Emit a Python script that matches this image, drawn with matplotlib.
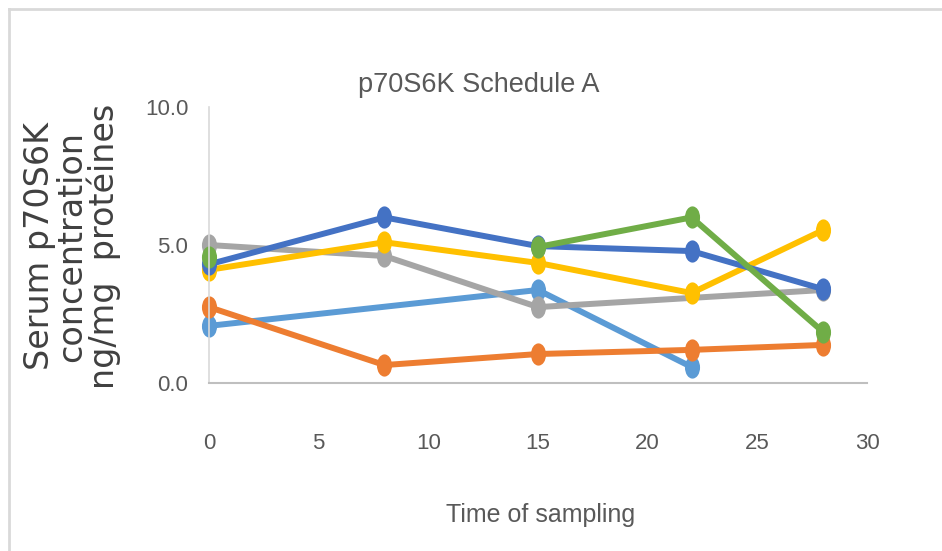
import numpy as np
import matplotlib
matplotlib.use("Agg")
import matplotlib.pyplot as plt
from matplotlib.path import Path
from matplotlib.transforms import Affine2D
from matplotlib.lines import Line2D

# data
x_lightblue = [0, 15, 22]
y_lightblue = [2.07, 3.37, 0.58]
x_orange = [0, 8, 15, 22, 28]
y_orange = [2.75, 0.65, 1.05, 1.2, 1.38]
x_gray = [0, 8, 15, 28]
y_gray = [5.0, 4.6, 2.75, 3.37]
x_yellow = [0, 8, 15, 22, 28]
y_yellow = [4.1, 5.1, 4.35, 3.26, 5.54]
x_darkblue = [0, 8, 15, 22, 28]
y_darkblue = [4.3, 6.0, 4.96, 4.78, 3.4]
x_green = [0, 8, 15, 22, 28]
y_green = [4.57, np.nan, 4.93, 6.0, 1.85]

x_ticks = [0, 5, 10, 15, 20, 25, 30]
y_ticks = [0, 5, 10]

series = [
    (x_lightblue, y_lightblue, "#5B9BD5"),
    (x_orange, y_orange, "#ED7D31"),
    (x_gray, y_gray, "#A5A5A5"),
    (x_yellow, y_yellow, "#FFC000"),
    (x_darkblue, y_darkblue, "#4472C4"),
    (x_green, y_green, "#70AD47"),
]

narrow = ["Liberation Sans", "DejaVu Sans"]
txt = "#595959"

# tall ellipse marker (the reference is squeezed horizontally)
ell = Path.unit_circle().transformed(Affine2D().scale(0.68, 1.0))

fig = plt.figure(figsize=(9.42, 5.51), dpi=100)
ax = fig.add_axes([0.2219, 0.3049, 0.6985, 0.5009])

for xs, ys, c in series:
    ax.plot(xs, ys, color=c, lw=4.3, marker=ell, markersize=16,
            markeredgewidth=0, clip_on=False, solid_capstyle="round")

ax.set_xlim(0, 30)
ax.set_ylim(0, 10)
ax.set_xticks(x_ticks)
ax.set_yticks(y_ticks)
ax.set_yticklabels([f"{v:.1f}" for v in y_ticks])
ax.tick_params(length=0, colors=txt, labelsize=16)
ax.tick_params(axis="x", pad=36)
ax.tick_params(axis="y", pad=15)
for lab in ax.get_xticklabels() + ax.get_yticklabels():
    lab.set_family(narrow)

for s in ["top", "right"]:
    ax.spines[s].set_visible(False)
ax.spines["left"].set_color("#d9d9d9")
ax.spines["bottom"].set_color("#bfbfbf")
ax.spines["left"].set_linewidth(1.2)
ax.spines["bottom"].set_linewidth(1.5)

fig.text(479 / 942, 1 - 85 / 551, "p70S6K Schedule A", ha="center", va="center",
         fontsize=19.5, color=txt, family=narrow)
fig.text(541 / 942, 1 - 515 / 551, "Time of sampling", ha="center", va="center",
         fontsize=18, color=txt, family=narrow)
fig.text(72 / 942, 1 - 246 / 551, "Serum p70S6K\nconcentration\nng/mg  protéines",
         rotation=90, ha="center", va="center", multialignment="center",
         fontsize=24, linespacing=0.97, color="#404040", family="DejaVu Sans")

# light frame at left and top
fig.add_artist(Line2D([8.5 / 942, 8.5 / 942], [0, 1 - 9 / 551], color="#d9d9d9", lw=2))
fig.add_artist(Line2D([8.5 / 942, 1], [1 - 9 / 551, 1 - 9 / 551], color="#d9d9d9", lw=2))

fig.savefig("out.png", dpi=100)
